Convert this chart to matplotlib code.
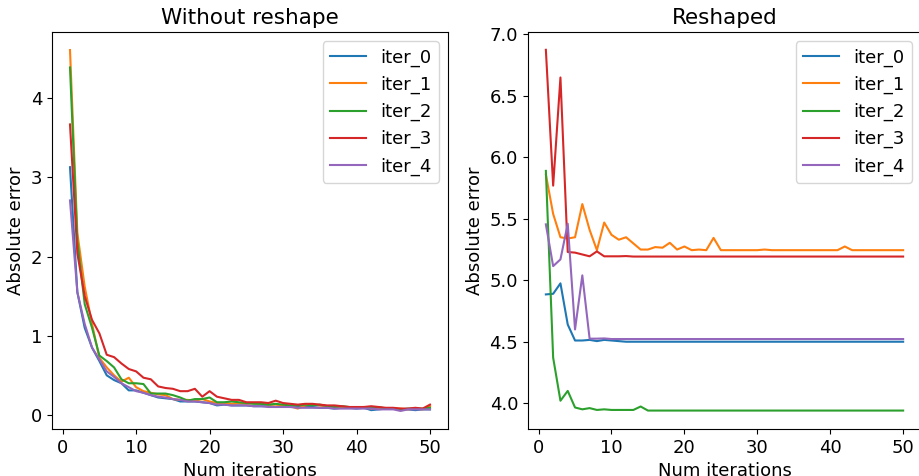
import matplotlib
matplotlib.use("Agg")
import matplotlib.pyplot as plt
import numpy as np

plt.rcParams['font.size'] = 13

iters = list(range(1, 51))
labels = ["iter_0", "iter_1", "iter_2", "iter_3", "iter_4"]

left_iter_0 = [3.13, 1.55, 1.1, 0.85, 0.68, 0.5, 0.44, 0.4, 0.31, 0.31, 0.28, 0.25, 0.22, 0.21, 0.2, 0.17, 0.17, 0.17, 0.16, 0.15,
               0.12, 0.13, 0.12, 0.12, 0.12, 0.11, 0.11, 0.11, 0.1, 0.11, 0.1, 0.1, 0.1, 0.1, 0.09, 0.09, 0.08, 0.09, 0.09, 0.08,
               0.09, 0.06, 0.07, 0.08, 0.08, 0.07, 0.07, 0.06, 0.07, 0.07]
left_iter_1 = [4.61, 2.3, 1.62, 1.15, 0.72, 0.6, 0.5, 0.42, 0.47, 0.35, 0.3, 0.28, 0.26, 0.25, 0.2, 0.19, 0.19, 0.18, 0.2, 0.17,
               0.15, 0.15, 0.14, 0.15, 0.14, 0.15, 0.14, 0.13, 0.13, 0.12, 0.11, 0.08, 0.12, 0.13, 0.12, 0.1, 0.1, 0.1, 0.09, 0.09,
               0.1, 0.08, 0.09, 0.08, 0.08, 0.08, 0.07, 0.08, 0.07, 0.11]
left_iter_2 = [4.39, 2.2, 1.4, 1.1, 0.75, 0.68, 0.6, 0.45, 0.4, 0.4, 0.39, 0.27, 0.27, 0.27, 0.25, 0.22, 0.18, 0.2, 0.2, 0.22,
               0.16, 0.16, 0.17, 0.16, 0.15, 0.14, 0.14, 0.13, 0.14, 0.13, 0.12, 0.12, 0.13, 0.12, 0.13, 0.11, 0.1, 0.11, 0.1, 0.09,
               0.1, 0.09, 0.1, 0.08, 0.08, 0.07, 0.08, 0.08, 0.08, 0.09]
left_iter_3 = [3.67, 2.04, 1.5, 1.2, 1.03, 0.76, 0.73, 0.65, 0.58, 0.55, 0.47, 0.45, 0.36, 0.34, 0.33, 0.3, 0.3, 0.33, 0.23, 0.3,
               0.23, 0.21, 0.19, 0.19, 0.16, 0.16, 0.16, 0.15, 0.18, 0.15, 0.14, 0.13, 0.14, 0.14, 0.13, 0.12, 0.12, 0.11, 0.1, 0.1,
               0.1, 0.11, 0.1, 0.09, 0.09, 0.08, 0.08, 0.09, 0.08, 0.13]
left_iter_4 = [2.71, 1.55, 1.15, 0.85, 0.7, 0.55, 0.48, 0.4, 0.35, 0.3, 0.28, 0.25, 0.23, 0.22, 0.2, 0.19, 0.17, 0.17, 0.16, 0.15,
               0.13, 0.13, 0.12, 0.12, 0.12, 0.11, 0.11, 0.1, 0.1, 0.1, 0.1, 0.09, 0.09, 0.09, 0.09, 0.09, 0.08, 0.08, 0.08, 0.08,
               0.08, 0.08, 0.07, 0.07, 0.07, 0.05, 0.07, 0.07, 0.07, 0.07]

right_iter_0 = [4.885, 4.89, 4.975, 4.64, 4.51, 4.51, 4.515, 4.505, 4.515, 4.51, 4.505] + [4.5] * 39
right_iter_1 = [5.86, 5.54, 5.35, 5.34, 5.35, 5.62, 5.41, 5.245, 5.47, 5.37, 5.33, 5.35, 5.3, 5.25, 5.25, 5.27, 5.265, 5.305,
                5.25, 5.275, 5.245, 5.25, 5.245, 5.345, 5.245, 5.245, 5.245, 5.245, 5.245, 5.245, 5.25, 5.245, 5.245, 5.245,
                5.245, 5.245, 5.245, 5.245, 5.245, 5.245, 5.245, 5.275, 5.245, 5.245, 5.245, 5.245, 5.245, 5.245, 5.245, 5.245]
right_iter_2 = [5.89, 4.37, 4.02, 4.10, 3.965, 3.95, 3.96, 3.945, 3.95, 3.945, 3.945, 3.945, 3.945, 3.973] + [3.94] * 36
right_iter_3 = [6.875, 5.77, 6.65, 5.23, 5.225, 5.21, 5.195, 5.235, 5.195, 5.195, 5.195, 5.197] + [5.193] * 38
right_iter_4 = [5.455, 5.115, 5.17, 5.46, 4.60, 5.04, 4.525, 4.525, 4.527] + [4.522] * 41

left_series = [left_iter_0, left_iter_1, left_iter_2, left_iter_3, left_iter_4]
right_series = [right_iter_0, right_iter_1, right_iter_2, right_iter_3, right_iter_4]

W, H = 919, 476
fig = plt.figure(figsize=(W / 100, H / 100), dpi=100)

def px_axes(l, r, t, b):
    return fig.add_axes([l / W, 1 - b / H, (r - l) / W, (b - t) / H])

ax1 = px_axes(52, 448, 32, 429)
ax2 = px_axes(528, 921, 32, 429)

for s, lab in zip(left_series, labels):
    ax1.plot(iters, s, label=lab)
for s, lab in zip(right_series, labels):
    ax2.plot(iters, s, label=lab)

ax1.set_title("Without reshape", fontsize=15.5)
ax2.set_title("Reshaped", fontsize=15.5)
for ax in (ax1, ax2):
    ax.set_xlabel("Num iterations")
    ax.set_ylabel("Absolute error")
    ax.legend(loc="upper right")
    ax.set_xticks([0, 10, 20, 30, 40, 50])

ax1.set_yticks([0, 1, 2, 3, 4])
ax2.set_yticks([4.0, 4.5, 5.0, 5.5, 6.0, 6.5, 7.0])
ax2.set_ylim(3.79, 7.02)

fig.savefig("out.png", dpi=100)
